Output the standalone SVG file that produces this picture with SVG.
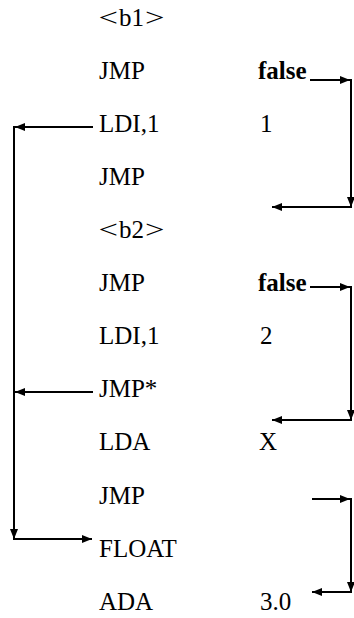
<svg xmlns="http://www.w3.org/2000/svg" width="354" height="618" viewBox="0 0 354 618">
<style>
.b{font-weight:bold}
.c{fill:none;stroke:#000;stroke-width:2}
</style>
<defs>
<marker id="ah" viewBox="0 0 10 8" refX="10" refY="4" markerWidth="10" markerHeight="8" markerUnits="userSpaceOnUse" orient="auto">
<path d="M0,0 L10,4 L0,8 z" fill="#000"/>
</marker>
</defs>
<rect width="354" height="618" fill="#fff"/>
<g id="nodes" font-family="Liberation Serif" font-size="25" fill="#000">
<g id="r1"><text x="98.5" y="26" textLength="19.5" lengthAdjust="spacingAndGlyphs">&lt;</text><text x="119" y="26">b1</text><text x="145" y="26" textLength="19.5" lengthAdjust="spacingAndGlyphs">&gt;</text></g>
<g id="r2"><text x="99" y="79">JMP</text><text x="258" y="79" class="b">false</text></g>
<g id="r3"><text x="99" y="132">LDI,1</text><text x="260" y="132">1</text></g>
<g id="r4"><text x="99" y="185">JMP</text></g>
<g id="r5"><text x="98.5" y="238" textLength="19.5" lengthAdjust="spacingAndGlyphs">&lt;</text><text x="119" y="238">b2</text><text x="145" y="238" textLength="19.5" lengthAdjust="spacingAndGlyphs">&gt;</text></g>
<g id="r6"><text x="99" y="291">JMP</text><text x="258" y="291" class="b">false</text></g>
<g id="r7"><text x="99" y="344">LDI,1</text><text x="260" y="344">2</text></g>
<g id="r8"><text x="99" y="397">JMP*</text></g>
<g id="r9"><text x="99" y="450">LDA</text><text x="259" y="450">X</text></g>
<g id="r10"><text x="99" y="504">JMP</text></g>
<g id="r11"><text x="99" y="557">FLOAT</text></g>
<g id="r12"><text x="99" y="610">ADA</text><text x="260" y="610">3.0</text></g>
</g>
<g id="connectors">
<line class="c" x1="310" y1="80" x2="350" y2="80" marker-end="url(#ah)"/>
<line class="c" x1="351" y1="79" x2="351" y2="207" marker-end="url(#ah)"/>
<line class="c" x1="352" y1="207" x2="272" y2="207" marker-end="url(#ah)"/>
<line class="c" x1="93" y1="127" x2="15" y2="127" marker-end="url(#ah)"/>
<line class="c" x1="14" y1="126" x2="14" y2="539" marker-end="url(#ah)"/>
<line class="c" x1="13" y1="539" x2="92" y2="539" marker-end="url(#ah)"/>
<line class="c" x1="93" y1="392" x2="15" y2="392" marker-end="url(#ah)"/>
<line class="c" x1="310" y1="287" x2="350" y2="287" marker-end="url(#ah)"/>
<line class="c" x1="351" y1="286" x2="351" y2="420" marker-end="url(#ah)"/>
<line class="c" x1="352" y1="420" x2="272" y2="420" marker-end="url(#ah)"/>
<line class="c" x1="312" y1="499" x2="350" y2="499" marker-end="url(#ah)"/>
<line class="c" x1="351" y1="498" x2="351" y2="592" marker-end="url(#ah)"/>
<line class="c" x1="352" y1="592" x2="312" y2="592" marker-end="url(#ah)"/>
</g>
</svg>
